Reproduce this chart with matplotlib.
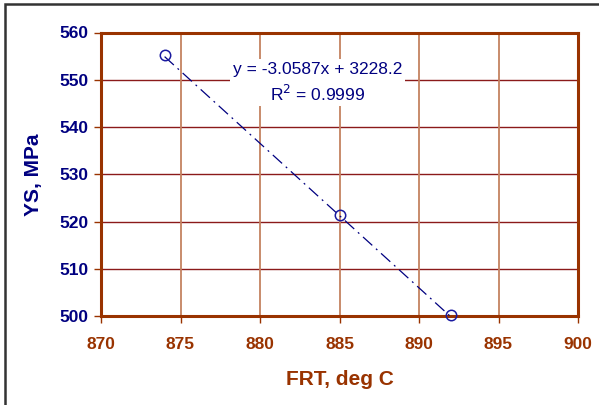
import matplotlib
matplotlib.use("Agg")
import matplotlib.pyplot as plt
from matplotlib.patches import Rectangle
import numpy as np

# data
frt = [874, 885, 892]
ys = [555.2, 521.3, 500.3]
slope, intercept = -3.0587, 3228.2
x_ticks = [870, 875, 880, 885, 890, 895, 900]
y_ticks = [500, 510, 520, 530, 540, 550, 560]

NAVY = "#000080"
BROWN = "#993300"

plt.rcParams["font.family"] = ["Liberation Sans", "DejaVu Sans"]

fig = plt.figure(figsize=(5.99, 4.05), dpi=100)
ax = fig.add_axes([101 / 599, 1 - 316 / 405, 477 / 599, 283.5 / 405])

ax.set_xlim(870, 900)
ax.set_ylim(500, 560)
ax.set_xticks(x_ticks)
ax.set_yticks(y_ticks)

for y in y_ticks:
    ax.axhline(y, color="#8b1a1a", lw=1.0, zorder=1)
for x in x_ticks:
    ax.axvline(x, color="#c48260", lw=1.3, zorder=1)

for s in ax.spines.values():
    s.set_color(BROWN)
    s.set_linewidth(2.2)
    s.set_zorder(3)

# trendline
tx = np.array([frt[0], frt[-1]])
ax.plot(tx, slope * tx + intercept, color=NAVY, lw=0.9,
        linestyle=(0, (10, 4, 1.5, 4)), zorder=4)
ax.plot(frt, ys, linestyle="none", marker="o", ms=7.5, mfc="none",
        mec="#1a1aa0", mew=1.1, zorder=5, clip_on=False)

ax.tick_params(axis="x", colors=BROWN, length=5, width=1, labelsize=12.5, pad=10)
ax.tick_params(axis="y", colors=NAVY, length=5, width=1, labelsize=12.5, pad=4)
for lbl in ax.get_xticklabels():
    lbl.set_fontweight("bold")
    lbl.set_color(BROWN)
for lbl in ax.get_yticklabels():
    lbl.set_fontweight("bold")
    lbl.set_color(NAVY)
ax.tick_params(axis="x", color=BROWN)
ax.tick_params(axis="y", color=BROWN)

ax.set_xlabel("FRT, deg C", color=BROWN, fontsize=15, fontweight="bold", labelpad=13)
ax.set_ylabel("YS, MPa", color=NAVY, fontsize=15, fontweight="bold", labelpad=12)

ax.text(883.6, 549.4, "y = -3.0587x + 3228.2\nR$^2$ = 0.9999", color=NAVY,
        fontsize=12.5, ha="center", va="center", linespacing=1.4,
        bbox=dict(facecolor="white", edgecolor="none", pad=2), zorder=6)

fig.patches.append(Rectangle((4.5 / 599, -0.1), 1.2, 1.1 - 4.5 / 405,
                             transform=fig.transFigure, fill=False,
                             edgecolor="#333333", lw=1.8))

fig.savefig("out.png", dpi=100)
